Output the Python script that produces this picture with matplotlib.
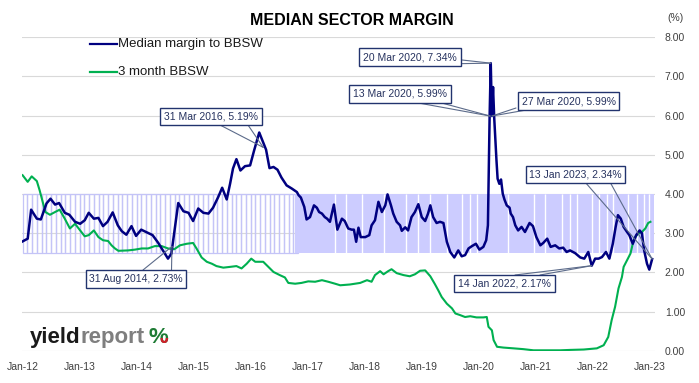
import matplotlib
matplotlib.use('Agg')
import matplotlib.pyplot as plt
from matplotlib.lines import Line2D
from matplotlib.transforms import Bbox
import numpy as np

plt.rcParams['font.family'] = ['Liberation Sans', 'DejaVu Sans']

# ---------------- data ----------------
blue_x = [2012.00, 2012.09, 2012.15, 2012.25, 2012.32, 2012.42, 2012.49, 2012.57, 2012.64, 2012.74, 2012.82, 2012.92,
          2013.01, 2013.09, 2013.16, 2013.25, 2013.33, 2013.41, 2013.49, 2013.58, 2013.67, 2013.74, 2013.82, 2013.91, 2013.99,
          2014.08, 2014.18, 2014.28, 2014.38, 2014.47, 2014.55, 2014.61, 2014.73, 2014.82, 2014.91, 2014.99,
          2015.08, 2015.17, 2015.26, 2015.34, 2015.43, 2015.50, 2015.58, 2015.64, 2015.69, 2015.75, 2015.82, 2015.90, 2015.99,
          2016.06, 2016.15, 2016.21, 2016.27, 2016.33, 2016.40, 2016.47, 2016.54, 2016.63, 2016.72, 2016.81, 2016.84, 2016.88, 2016.94, 2016.98,
          2017.04, 2017.11, 2017.16, 2017.20, 2017.25, 2017.30, 2017.34, 2017.39, 2017.46, 2017.52, 2017.60, 2017.65, 2017.71, 2017.77, 2017.81, 2017.85, 2017.89, 2017.93,
          2018.01, 2018.08, 2018.12, 2018.18, 2018.24, 2018.30, 2018.36, 2018.40, 2018.46, 2018.50, 2018.56, 2018.62, 2018.65, 2018.71, 2018.76, 2018.82, 2018.88, 2018.94,
          2019.00, 2019.06, 2019.11, 2019.15, 2019.20, 2019.26, 2019.32, 2019.38, 2019.44, 2019.50, 2019.57, 2019.64, 2019.70, 2019.76, 2019.82, 2019.88, 2019.95,
          2020.01, 2020.08, 2020.13, 2020.16, 2020.19, 2020.21, 2020.23, 2020.25, 2020.27, 2020.31, 2020.33, 2020.36, 2020.39, 2020.42, 2020.45, 2020.49, 2020.54, 2020.56, 2020.60, 2020.64, 2020.69, 2020.75, 2020.81, 2020.89, 2020.95,
          2021.01, 2021.08, 2021.13, 2021.20, 2021.26, 2021.34, 2021.41, 2021.48, 2021.54, 2021.60, 2021.69, 2021.78, 2021.85, 2021.92, 2021.98,
          2022.04, 2022.10, 2022.16, 2022.23, 2022.29, 2022.35, 2022.40, 2022.44, 2022.49, 2022.54, 2022.60, 2022.64, 2022.70, 2022.76, 2022.82, 2022.86, 2022.90, 2022.95, 2022.99,
          2023.04]
blue_y = [2.79, 2.86, 3.60, 3.37, 3.35, 3.76, 3.88, 3.73, 3.77, 3.52, 3.47, 3.29,
          3.24, 3.33, 3.52, 3.37, 3.39, 3.18, 3.29, 3.53, 3.20, 3.05, 2.96, 3.18, 2.93,
          3.09, 3.02, 2.95, 2.75, 2.54, 2.35, 2.48, 3.77, 3.56, 3.52, 3.31,
          3.63, 3.52, 3.50, 3.65, 3.92, 4.16, 3.86, 4.27, 4.65, 4.89, 4.60, 4.71, 4.73,
          5.11, 5.57, 5.35, 5.13, 4.66, 4.69, 4.62, 4.42, 4.22, 4.14, 4.05, 3.97, 3.91, 3.67, 3.35,
          3.41, 3.71, 3.65, 3.54, 3.50, 3.41, 3.37, 3.29, 3.73, 3.09, 3.37, 3.31, 3.12, 3.09, 3.09, 2.78, 3.14, 2.90,
          2.90, 2.95, 3.20, 3.33, 3.80, 3.54, 3.71, 3.99, 3.71, 3.50, 3.29, 3.20, 3.06, 3.15, 3.07, 3.41, 3.54, 3.74,
          3.41, 3.31, 3.50, 3.71, 3.41, 3.26, 3.29, 3.26, 2.78, 2.52, 2.38, 2.56, 2.41, 2.44, 2.61, 2.67, 2.73,
          2.58, 2.65, 2.82, 3.20, 5.99, 7.34, 5.99, 6.73, 5.96, 4.86, 4.39, 4.26, 4.37, 4.01, 3.86, 3.71, 3.65, 3.50, 3.41, 3.20, 3.07, 3.16, 3.03, 3.26, 3.18,
          2.90, 2.69, 2.75, 2.86, 2.65, 2.69, 2.61, 2.63, 2.52, 2.56, 2.49, 2.38, 2.35, 2.52, 2.17,
          2.35, 2.35, 2.39, 2.52, 2.35, 2.73, 3.16, 3.46, 3.37, 3.16, 3.03, 2.95, 2.73, 2.95, 3.07, 3.00, 2.56, 2.22, 2.07,
          2.34]

green_x = [2012.00, 2012.09, 2012.16, 2012.25, 2012.30, 2012.36, 2012.40, 2012.48, 2012.57, 2012.65, 2012.74, 2012.83, 2012.92,
           2013.01, 2013.09, 2013.16, 2013.25, 2013.33, 2013.41, 2013.50, 2013.56, 2013.62, 2013.68, 2013.85, 2013.97,
           2014.09, 2014.20, 2014.32, 2014.44, 2014.55, 2014.66, 2014.76, 2014.88, 2014.99,
           2015.05, 2015.14, 2015.23, 2015.32, 2015.40, 2015.52, 2015.64, 2015.75, 2015.84, 2015.93,
           2016.01, 2016.08, 2016.22, 2016.31, 2016.40, 2016.51, 2016.60, 2016.66, 2016.78, 2016.89,
           2017.01, 2017.13, 2017.25, 2017.36, 2017.48, 2017.57, 2017.74, 2017.92,
           2018.04, 2018.12, 2018.18, 2018.27, 2018.33, 2018.41, 2018.47, 2018.56, 2018.68, 2018.79, 2018.88, 2018.97,
           2019.06, 2019.15, 2019.23, 2019.29, 2019.35, 2019.44, 2019.53, 2019.59, 2019.67, 2019.76, 2019.85, 2019.96,
           2020.08, 2020.14, 2020.17, 2020.23, 2020.26, 2020.32, 2020.43, 2020.61, 2020.78, 2020.96,
           2021.19, 2021.43, 2021.60, 2021.84,
           2022.07, 2022.19, 2022.27, 2022.33, 2022.39, 2022.45, 2022.51, 2022.54, 2022.60, 2022.66, 2022.70, 2022.74, 2022.80, 2022.86, 2022.92, 2022.97,
           2023.01]
green_y = [4.48, 4.31, 4.45, 4.33, 4.09, 3.76, 3.54, 3.47, 3.54, 3.60, 3.37, 3.12, 3.24,
           3.07, 2.92, 2.95, 3.07, 2.90, 2.82, 2.80, 2.69, 2.61, 2.55, 2.56, 2.58,
           2.61, 2.61, 2.67, 2.67, 2.61, 2.59, 2.69, 2.73, 2.75,
           2.61, 2.38, 2.27, 2.22, 2.16, 2.12, 2.14, 2.16, 2.10, 2.22,
           2.35, 2.27, 2.27, 2.14, 2.01, 1.93, 1.87, 1.73, 1.71, 1.73,
           1.77, 1.76, 1.80, 1.76, 1.71, 1.67, 1.69, 1.73,
           1.80, 1.76, 1.93, 2.03, 1.95, 2.03, 2.08, 1.98, 1.93, 1.90, 1.95, 2.04,
           2.05, 1.90, 1.70, 1.54, 1.37, 1.20, 1.08, 0.95, 0.91, 0.86, 0.88, 0.85,
           0.85, 0.86, 0.61, 0.52, 0.27, 0.10, 0.08, 0.06, 0.04, 0.01,
           0.01, 0.01, 0.02, 0.03,
           0.06, 0.14, 0.35, 0.78, 1.12, 1.59, 1.88, 2.14, 2.31, 2.48, 2.73, 2.90, 2.99, 3.03, 3.12, 3.26,
           3.29]

# shaded range (2.5% - 4.0%)
band_low, band_high = 2.5, 4.0
band_start, band_weekly_start, band_end = 2012.0, 2016.78, 2023.08
band_gaps = [2017.48, 2017.67, 2017.95, 2018.33, 2018.72, 2018.94, 2019.15, 2019.44, 2019.70, 2019.85, 2019.96,
             2020.51, 2020.96, 2021.16, 2021.46, 2021.60, 2021.72, 2021.98, 2022.10, 2022.25, 2022.36,
             2022.62, 2022.77, 2022.89, 2022.98]

tick_years = list(range(2012, 2024))
tick_labels = ['Jan-12', 'Jan-13', 'Jan-14', 'Jan-15', 'Jan-16', 'Jan-17', 'Jan-18', 'Jan-19', 'Jan-20', 'Jan-21', 'Jan-22', 'Jan-23']
y_ticks = [0, 1, 2, 3, 4, 5, 6, 7, 8]

# callouts: label, target x, target y
callout_labels = ['31 Mar 2016, 5.19%', '20 Mar 2020, 7.34%', '13 Mar 2020, 5.99%', '27 Mar 2020, 5.99%',
                  '13 Jan 2023, 2.34%', '31 Aug 2014, 2.73%', '14 Jan 2022, 2.17%']
callout_x = [2016.22, 2020.21, 2020.20, 2020.23, 2023.04, 2014.62, 2021.98]
callout_y = [5.19, 7.34, 5.99, 5.99, 2.34, 2.66, 2.17]

# ---------------- layout ----------------
W, H = 699, 383
fig = plt.figure(figsize=(W / 100, H / 100), dpi=100)
ax = fig.add_axes([22 / W, (H - 350.7) / H, 633 / W, 313.4 / H])
ax.set_xlim(2011.99, 2023.09)
ax.set_ylim(0, 8)
for s in ax.spines.values():
    s.set_visible(False)

ax.set_yticks(y_ticks)
ax.set_yticklabels([f'{v:.2f}' for v in y_ticks])
ax.yaxis.tick_right()
ax.tick_params(axis='y', length=0, pad=7, labelsize=7.5, labelcolor='#404040')
ax.set_xticks(tick_years)
ax.set_xticklabels(tick_labels)
ax.tick_params(axis='x', length=0, pad=8, labelsize=7.5, labelcolor='#404040')
ax.grid(axis='y', color='#d9d9d9', lw=0.8)
ax.set_axisbelow(True)

# band: monthly stripes then weekly solid with gaps
month_starts = np.arange(band_start, band_weekly_start - 1e-6, 1 / 12)
ax.bar(month_starts, band_high - band_low, width=1 / 12, bottom=band_low, align='edge',
       facecolor='none', edgecolor='#c4c4f7', lw=0.9, zorder=1)
ax.bar([band_weekly_start], [band_high - band_low], width=band_end - band_weekly_start, bottom=band_low,
       align='edge', facecolor='#ccccff', edgecolor='none', zorder=1)
ax.vlines(band_gaps, band_low, band_high, colors='white', lw=1.0, zorder=1.2)

ax.plot(green_x, green_y, color='#00b050', lw=1.5, zorder=3, solid_joinstyle='round')
ax.plot(blue_x, blue_y, color='#000080', lw=1.8, zorder=4, solid_joinstyle='round')

# callout boxes (positions in figure pixels from top-left)
box_centers = [(211, 116.5), (410, 57), (400, 94), (568.5, 101), (575.5, 174.5), (136, 279), (504.5, 283.5)]
line_bases = [[(220, 125), (248, 125)], [(440, 64), (462, 60)], [(413, 102), (438, 102)],
              [(516, 108), (532, 109)], [(585, 182), (610, 182)], [(143, 270), (171.5, 270)],
              [(515, 275), (540, 275)]]
for lab, tx, ty, (cx, cy), bases in zip(callout_labels, callout_x, callout_y, box_centers, line_bases):
    for bx, by in bases:
        ax.annotate('', xy=(tx, ty), xycoords='data', xytext=(bx, H - by), textcoords='figure pixels',
                    arrowprops=dict(arrowstyle='-', color='#5c6b8a', lw=0.8, shrinkA=0, shrinkB=0), zorder=5)
    ax.annotate(lab, xy=(cx, H - cy), xycoords='figure pixels', ha='center', va='center', fontsize=7.5,
                color='#26325f', zorder=6,
                bbox=dict(boxstyle='square,pad=0.35', fc='white', ec='#22336e', lw=1))

# title and axis unit
fig.text(351.5 / W, 1 - 20.5 / H, 'MEDIAN SECTOR MARGIN', ha='center', va='center',
         fontsize=11.5, fontweight='bold', color='black')
fig.text(675 / W, 1 - 18 / H, '(%)', ha='center', va='center', fontsize=7.5, color='#404040')

# legend
fig.add_artist(Line2D([90 / W, 117 / W], [1 - 44 / H] * 2, color='#000080', lw=1.6))
fig.text(118 / W, 1 - 44 / H, 'Median margin to BBSW', va='center', fontsize=9.5, color='#1a1a1a')
fig.add_artist(Line2D([90 / W, 117 / W], [1 - 72 / H] * 2, color='#00b050', lw=1.6))
fig.text(118 / W, 1 - 72 / H, '3 month BBSW', va='center', fontsize=9.5, color='#1a1a1a')

# logo
base_y = 1 - 343 / H
t1 = fig.text(30 / W, base_y, 'yield', fontsize=16, fontweight='bold', color='#1a1a1a', va='baseline')
fig.canvas.draw()
r = fig.canvas.get_renderer()
x1 = t1.get_window_extent(r).x1
t2 = fig.text(x1 / W, base_y, 'report', fontsize=16, fontweight='bold', color='#7f7f7f', va='baseline')
fig.canvas.draw()
x2 = t2.get_window_extent(r).x1 + 4
t3 = fig.text(x2 / W, base_y, '%', fontsize=16, fontweight='bold', color='#1e7b34', va='baseline')
fig.canvas.draw()
bb = t3.get_window_extent(r)
t4 = fig.text(x2 / W, base_y, '%', fontsize=16, fontweight='bold', color='#d0202a', va='baseline')
t4.set_clip_box(Bbox.from_extents(bb.x0 + bb.width * 0.5, bb.y0 - 2, bb.x1 + 2, bb.y0 + bb.height * 0.5))
t4.set_clip_on(True)

fig.savefig('out.png', dpi=100)
